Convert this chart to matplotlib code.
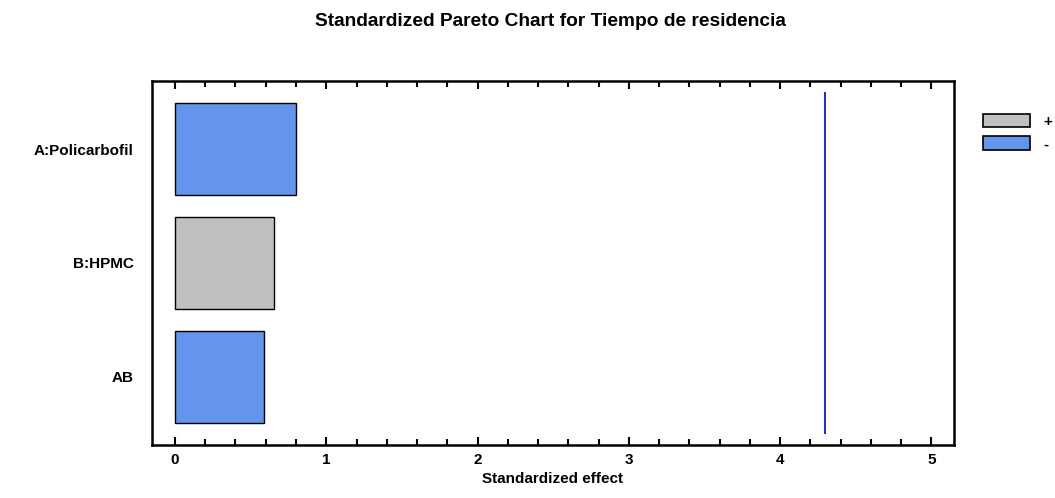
import matplotlib
matplotlib.use("Agg")
import matplotlib.pyplot as plt
from matplotlib.patches import Patch
from matplotlib.ticker import MultipleLocator

plt.rcParams['font.family'] = ['Liberation Sans', 'DejaVu Sans']
plt.rcParams['font.weight'] = 'bold'

# Effects, listed bottom to top
effects = ["AB", "B:HPMC", "A:Policarbofil"]
std_effect = [0.588, 0.654, 0.800]
signs = ["-", "+", "-"]
critical_value = 4.30
x_ticks = [0, 1, 2, 3, 4, 5]

sign_colors = {"+": "#C0C0C0", "-": "#6495ED"}

fig = plt.figure(figsize=(10.55, 4.98), dpi=100)
ax = fig.add_axes([152/1055, 1 - 445/498, (954-152)/1055, (445-81)/498])

ypos = list(range(len(effects)))
ax.barh(ypos, std_effect, height=0.81, left=0,
        color=[sign_colors[s] for s in signs], edgecolor="black", linewidth=1.0)
ax.vlines(critical_value, -0.5, 2.5, color="#1010F0", linewidth=1.3)

ax.set_xlim(-0.152, 5.15)
ax.set_ylim(-0.6, 2.6)
ax.set_yticks(ypos)
ax.set_yticklabels(effects, fontsize=11, fontweight="bold")
ax.tick_params(axis="y", length=0, pad=13)
ax.set_xticks(x_ticks)
ax.set_xticklabels([str(t) for t in x_ticks], fontsize=11, fontweight="bold")
ax.xaxis.set_minor_locator(MultipleLocator(0.2))
ax.tick_params(axis="x", which="major", direction="in", length=6, width=1.5,
               top=True, pad=6)
ax.tick_params(axis="x", which="minor", direction="in", length=4, width=1.5,
               top=True)
for sp in ax.spines.values():
    sp.set_linewidth(1.8)

ax.set_xlabel("Standardized effect", fontsize=11, fontweight="bold", labelpad=3)
fig.suptitle("Standardized Pareto Chart for Tiempo de residencia",
             fontsize=13.8, fontweight="bold", x=550/1055, y=1 - 21/498,
             va="center")

handles = [Patch(facecolor=sign_colors["+"], edgecolor="black", linewidth=1.2, label="+"),
           Patch(facecolor=sign_colors["-"], edgecolor="black", linewidth=1.2, label="-")]
fig.legend(handles=handles, loc="upper left",
           bbox_to_anchor=(975/1055, 1 - 106/498), frameon=False, borderpad=0,
           handlelength=3.1, handleheight=1.0,
           labelspacing=0.5, handletextpad=0.9, prop={"weight": "bold", "size": 11})

fig.savefig("out.png", dpi=100)
